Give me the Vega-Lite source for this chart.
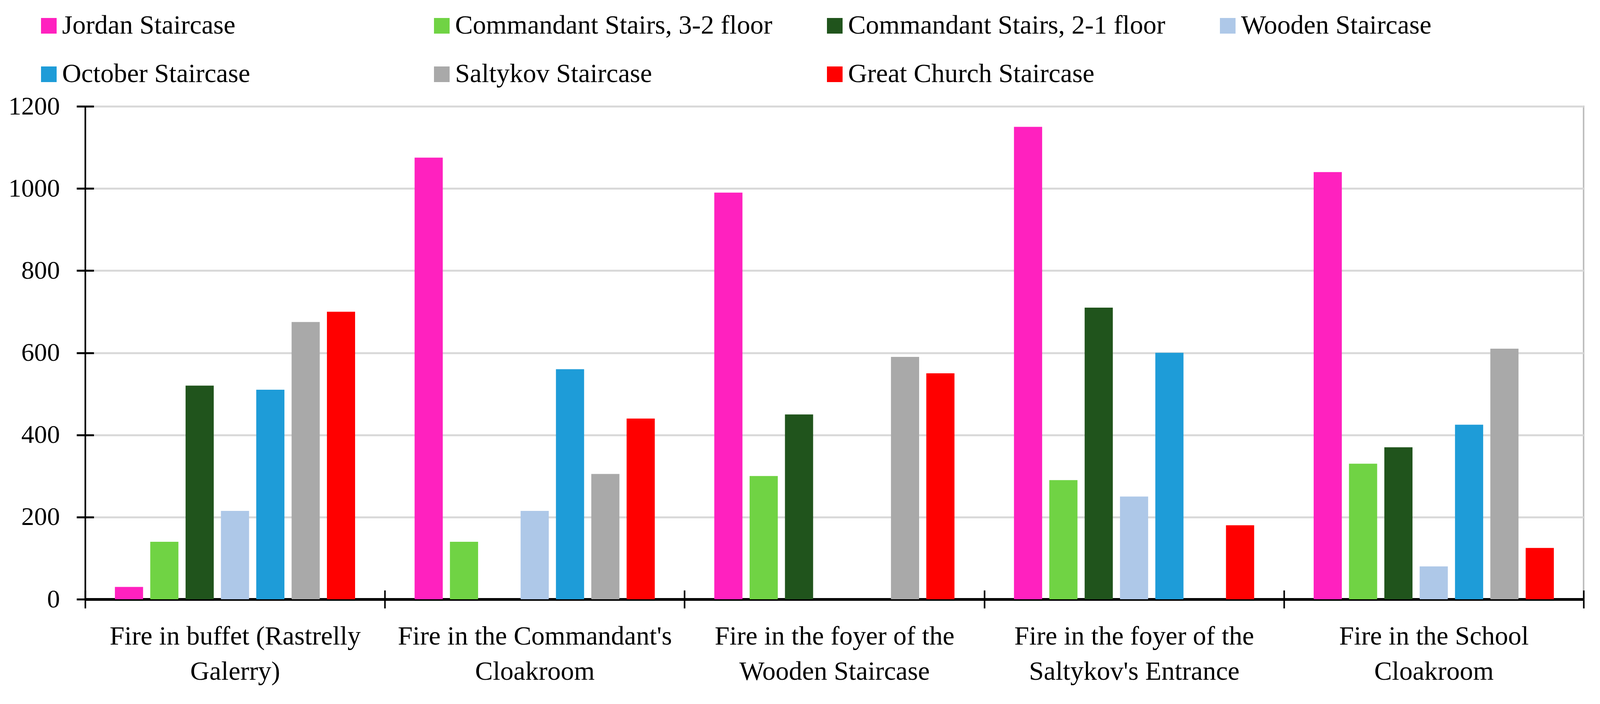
{
  "$schema": "https://vega.github.io/schema/vega-lite/v6.json",
  "autosize": {"type": "none"},
  "padding": {"left": 218, "top": 272, "right": 42, "bottom": 268},
  "width": 3836,
  "height": 1261,
  "background": "white",
  "config": {
    "view": {"stroke": "#bfbfbf", "strokeWidth": 4},
    "font": "Liberation Serif"
  },
  "data": {
    "values": [
      {"fire": "Fire in buffet (Rastrelly Galerry)", "stair": "Jordan Staircase", "v": 30},
      {"fire": "Fire in buffet (Rastrelly Galerry)", "stair": "Commandant Stairs, 3-2 floor", "v": 140},
      {"fire": "Fire in buffet (Rastrelly Galerry)", "stair": "Commandant Stairs, 2-1 floor", "v": 520},
      {"fire": "Fire in buffet (Rastrelly Galerry)", "stair": "Wooden Staircase", "v": 215},
      {"fire": "Fire in buffet (Rastrelly Galerry)", "stair": "October Staircase", "v": 510},
      {"fire": "Fire in buffet (Rastrelly Galerry)", "stair": "Saltykov Staircase", "v": 675},
      {"fire": "Fire in buffet (Rastrelly Galerry)", "stair": "Great Church Staircase", "v": 700},
      {"fire": "Fire in the Commandant's Cloakroom", "stair": "Jordan Staircase", "v": 1075},
      {"fire": "Fire in the Commandant's Cloakroom", "stair": "Commandant Stairs, 3-2 floor", "v": 140},
      {"fire": "Fire in the Commandant's Cloakroom", "stair": "Wooden Staircase", "v": 215},
      {"fire": "Fire in the Commandant's Cloakroom", "stair": "October Staircase", "v": 560},
      {"fire": "Fire in the Commandant's Cloakroom", "stair": "Saltykov Staircase", "v": 305},
      {"fire": "Fire in the Commandant's Cloakroom", "stair": "Great Church Staircase", "v": 440},
      {"fire": "Fire in the foyer of the Wooden Staircase", "stair": "Jordan Staircase", "v": 990},
      {"fire": "Fire in the foyer of the Wooden Staircase", "stair": "Commandant Stairs, 3-2 floor", "v": 300},
      {"fire": "Fire in the foyer of the Wooden Staircase", "stair": "Commandant Stairs, 2-1 floor", "v": 450},
      {"fire": "Fire in the foyer of the Wooden Staircase", "stair": "Saltykov Staircase", "v": 590},
      {"fire": "Fire in the foyer of the Wooden Staircase", "stair": "Great Church Staircase", "v": 550},
      {"fire": "Fire in the foyer of the Saltykov's Entrance", "stair": "Jordan Staircase", "v": 1150},
      {"fire": "Fire in the foyer of the Saltykov's Entrance", "stair": "Commandant Stairs, 3-2 floor", "v": 290},
      {"fire": "Fire in the foyer of the Saltykov's Entrance", "stair": "Commandant Stairs, 2-1 floor", "v": 710},
      {"fire": "Fire in the foyer of the Saltykov's Entrance", "stair": "Wooden Staircase", "v": 250},
      {"fire": "Fire in the foyer of the Saltykov's Entrance", "stair": "October Staircase", "v": 600},
      {"fire": "Fire in the foyer of the Saltykov's Entrance", "stair": "Great Church Staircase", "v": 180},
      {"fire": "Fire in the School Cloakroom", "stair": "Jordan Staircase", "v": 1040},
      {"fire": "Fire in the School Cloakroom", "stair": "Commandant Stairs, 3-2 floor", "v": 330},
      {"fire": "Fire in the School Cloakroom", "stair": "Commandant Stairs, 2-1 floor", "v": 370},
      {"fire": "Fire in the School Cloakroom", "stair": "Wooden Staircase", "v": 80},
      {"fire": "Fire in the School Cloakroom", "stair": "October Staircase", "v": 425},
      {"fire": "Fire in the School Cloakroom", "stair": "Saltykov Staircase", "v": 610},
      {"fire": "Fire in the School Cloakroom", "stair": "Great Church Staircase", "v": 125}
    ]
  },
  "encoding": {
    "xOffset": {
      "field": "stair",
      "type": "nominal",
      "sort": ["Jordan Staircase", "Commandant Stairs, 3-2 floor", "Commandant Stairs, 2-1 floor", "Wooden Staircase", "October Staircase", "Saltykov Staircase", "Great Church Staircase"],
      "scale": {"paddingInner": 0.203, "paddingOuter": 0.842}
    },
    "color": {
      "field": "stair",
      "type": "nominal",
      "sort": ["Jordan Staircase", "Commandant Stairs, 3-2 floor", "Commandant Stairs, 2-1 floor", "Wooden Staircase", "October Staircase", "Saltykov Staircase", "Great Church Staircase"],
      "scale": {
        "domain": ["Jordan Staircase", "Commandant Stairs, 3-2 floor", "Commandant Stairs, 2-1 floor", "Wooden Staircase", "October Staircase", "Saltykov Staircase", "Great Church Staircase"],
        "range": ["#ff21bf", "#70d344", "#20541c", "#aec8e8", "#1e9cd8", "#a9a9a9", "#ff0000"]
      },
      "legend": {
        "title": null,
        "orient": "none",
        "legendX": -127,
        "legendY": -240,
        "direction": "horizontal",
        "columns": 4,
        "gridAlign": "all",
        "symbolType": "square",
        "symbolSize": 1600,
        "symbolStrokeWidth": 0,
        "labelFont": "Liberation Serif",
        "labelFontSize": 68,
        "labelColor": "black",
        "labelOffset": 0,
        "labelLimit": 3000,
        "columnPadding": 125,
        "rowPadding": 56,
        "padding": 0
      }
    }
  },
  "layer": [
    {
      "mark": {"type": "bar"},
      "encoding": {
        "x": {
          "field": "fire",
          "type": "nominal",
          "sort": null,
          "scale": {"paddingInner": 0, "paddingOuter": 0},
          "axis": {
            "title": null,
            "labelAngle": 0,
            "labelFont": "Liberation Serif",
            "labelFontSize": 68,
            "labelColor": "black",
            "labelLineHeight": 90,
            "labelPadding": 38,
            "labelLimit": 2000,
            "labelBaseline": "top",
            "tickBand": "extent",
            "tickSize": 23,
            "tickWidth": 4,
            "tickColor": "black",
            "domainColor": "black",
            "domainWidth": 7,
            "grid": false,
            "labelExpr": "datum.value == \"Fire in buffet (Rastrelly Galerry)\" ? [\"Fire in buffet (Rastrelly\", \"Galerry)\"] : datum.value == \"Fire in the Commandant's Cloakroom\" ? [\"Fire in the Commandant's\", \"Cloakroom\"] : datum.value == \"Fire in the foyer of the Wooden Staircase\" ? [\"Fire in the foyer of the\", \"Wooden Staircase\"] : datum.value == \"Fire in the foyer of the Saltykov's Entrance\" ? [\"Fire in the foyer of the\", \"Saltykov's Entrance\"] : datum.value == \"Fire in the School Cloakroom\" ? [\"Fire in the School\", \"Cloakroom\"] : \"\""
          }
        },
        "y": {
          "field": "v",
          "type": "quantitative",
          "scale": {"domain": [0, 1200], "nice": false},
          "axis": {
            "title": null,
            "values": [0, 200, 400, 600, 800, 1000, 1200],
            "format": "d",
            "labelFont": "Liberation Serif",
            "labelFontSize": 66,
            "labelColor": "black",
            "labelPadding": 43,
            "tickSize": 22,
            "tickWidth": 5,
            "tickColor": "black",
            "domainColor": "black",
            "domainWidth": 4,
            "grid": true,
            "gridColor": "#d9d9d9",
            "gridWidth": 5
          }
        }
      }
    },
    {
      "mark": {"type": "bar", "opacity": 0},
      "encoding": {
        "x": {
          "field": "fire",
          "type": "nominal",
          "sort": null,
          "axis": {
            "orient": "bottom",
            "title": null,
            "labels": false,
            "domain": false,
            "grid": false,
            "tickBand": "extent",
            "tickSize": -23,
            "tickWidth": 4,
            "tickColor": "black"
          }
        },
        "y": {
          "field": "v",
          "type": "quantitative",
          "axis": {
            "orient": "left",
            "title": null,
            "values": [0, 200, 400, 600, 800, 1000, 1200],
            "labels": false,
            "domain": false,
            "grid": false,
            "tickSize": -22,
            "tickWidth": 5,
            "tickColor": "black"
          }
        }
      }
    }
  ],
  "resolve": {"axis": {"x": "independent", "y": "independent"}}
}
